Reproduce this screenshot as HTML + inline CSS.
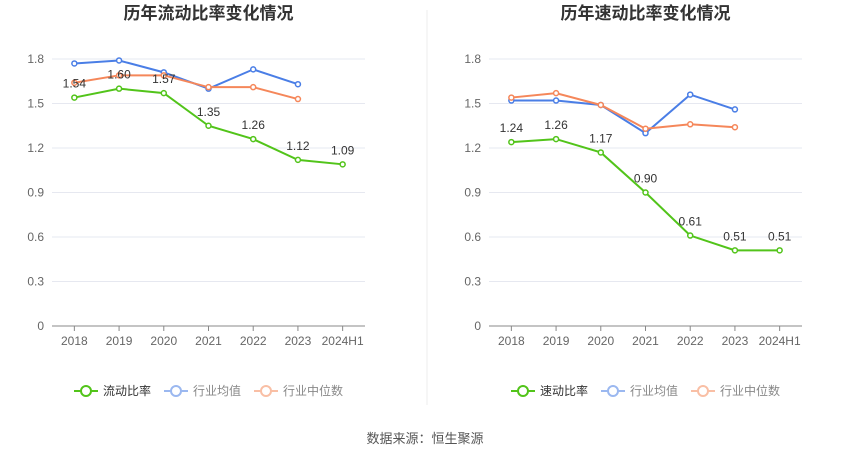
<!DOCTYPE html>
<html><head><meta charset="utf-8">
<style>
body{margin:0;background:#fff;font-family:"Liberation Sans","Noto Sans CJK SC",sans-serif;}
svg text{font-family:"Liberation Sans","Noto Sans CJK SC",sans-serif;}
</style></head>
<body>
<svg id="c" width="850" height="459">
<line x1="427" y1="10" x2="427" y2="405" stroke="#eee"/>
<text x="425" y="443" font-size="13" fill="#555" text-anchor="middle">数据来源：恒生聚源</text>
</svg>
<script>
const categories=["2018","2019","2020","2021","2022","2023","2024H1"];
const yTicks=[0,0.3,0.6,0.9,1.2,1.5,1.8];
const currentRatio=[1.54,1.60,1.57,1.35,1.26,1.12,1.09];
const currentAvg=[1.77,1.79,1.71,1.60,1.73,1.63];
const currentMedian=[1.64,1.69,1.69,1.61,1.61,1.53];
const quickRatio=[1.24,1.26,1.17,0.90,0.61,0.51,0.51];
const quickAvg=[1.52,1.52,1.49,1.30,1.56,1.46];
const quickMedian=[1.54,1.57,1.49,1.33,1.36,1.34];

const svg=document.getElementById('c');
const NS='http://www.w3.org/2000/svg';
function mk(tag,attrs,parent){const e=document.createElementNS(NS,tag);for(const k in attrs)e.setAttribute(k,attrs[k]);(parent||svg).appendChild(e);return e;}

function drawChart(prefix,title,x0,x1,mainName,main,avg,med){
  const g=mk('g',{});
  
  
  const yTop=59,yBot=326,yMax=1.8;
  const ys=v=>yBot-(v/yMax)*(yBot-yTop);
  const step=(x1-x0)/categories.length;
  const xs=i=>x0+step*(i+0.5);
  const t=mk('text',{x:(x0+x1)/2,y:19,'font-size':17,'font-weight':'bold',fill:'#333','text-anchor':'middle'},g);
  t.textContent=title;
  
  
  yTicks.forEach(v=>{
    const l=mk('line',{x1:x0,x2:x1,y1:ys(v),y2:ys(v),stroke:v===0?'#888':'#e6e8f0'},g);
    
    
    const tx=mk('text',{x:x0-8,y:ys(v)+4,'font-size':12,fill:'#666','text-anchor':'end'},g);
    tx.textContent=v===0?'0':v.toFixed(1);
    
    
  });
  categories.forEach((c,i)=>{
    const tk=mk('line',{x1:xs(i),x2:xs(i),y1:yBot,y2:yBot+5,stroke:'#888'},g);
    
    
    const tx=mk('text',{x:xs(i),y:yBot+19,'font-size':12,fill:'#666','text-anchor':'middle'},g);
    tx.textContent=c;
    
    
  });
  function series(data,color,name,labels){
    const p=mk('polyline',{points:data.map((v,i)=>xs(i)+','+ys(v)).join(' '),fill:'none',stroke:color,'stroke-width':2},g);
    
    
    data.forEach((v,i)=>{
      const c=mk('circle',{cx:xs(i),cy:ys(v),r:2.5,fill:'#fff',stroke:color,'stroke-width':1.5},g);
      
      
      if(labels){
        const tx=mk('text',{x:xs(i),y:ys(v)-10,'font-size':12,fill:'#333','text-anchor':'middle'},g);
        tx.textContent=v.toFixed(2);
        
        
      }
    });
  }
  series(avg,'#4a7ee6','avg',false);
  series(med,'#f5875a','median',false);
  series(main,'#52c41a','main',true);
  const legend=[[mainName,'#52c41a','#333'],['行业均值','#9bb8f0','#888'],['行业中位数','#f9bfa5','#888']];
  let lx=x0+22;
  const widths=[90,90,100];
  legend.forEach((L,i)=>{
    const lg=mk('g',{},g);
    
    
    mk('line',{x1:lx,x2:lx+24,y1:391,y2:391,stroke:L[1],'stroke-width':2},lg);
    mk('circle',{cx:lx+12,cy:391,r:5,fill:'#fff',stroke:L[1],'stroke-width':2},lg);
    const tx=mk('text',{x:lx+29,y:395,'font-size':12,fill:L[2]},lg);
    tx.textContent=L[0];
    lx+=widths[i];
  });
}
drawChart('current','历年流动比率变化情况',52,365,'流动比率',currentRatio,currentAvg,currentMedian);
drawChart('quick','历年速动比率变化情况',489,802,'速动比率',quickRatio,quickAvg,quickMedian);
</script>
</body></html>
